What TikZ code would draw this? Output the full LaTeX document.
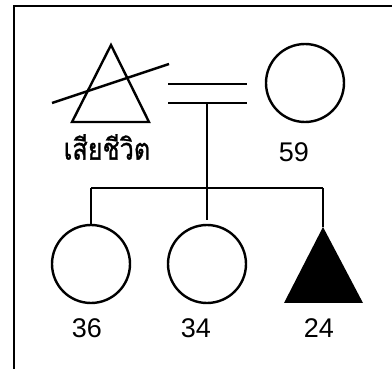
\documentclass[tikz,border=0pt]{standalone}
\usepackage{fontspec}
\usepackage{graphicx}
\setmainfont{Liberation Sans}
\newfontfamily\thaifont[Script=Thai,FakeBold=1.0]{Loma}
\begin{document}
\begin{tikzpicture}[x=1pt,y=-1pt,
  ln/.style={line width=2.4pt},
  person/.style={circle,draw,line width=2.4pt,minimum size=78pt,inner sep=0pt},
  lab/.style={font=\fontsize{27}{27}\selectfont,inner sep=0pt}]
\useasboundingbox (0,0) rectangle (392,369);
\fill[white] (0,0) rectangle (392,369);
% frame
\draw[line width=2pt] (14,369) -- (14,6) -- (392,6);
% deceased father
\coordinate (fa) at (111,45);
\coordinate (fl) at (72,122);
\coordinate (fr) at (149,122);
\draw[ln,line join=miter] (fa) -- (fl) -- (fr) -- cycle;
\coordinate (s1) at (52,103);
\coordinate (s2) at (169,64);
\draw[ln] (s1) -- (s2);
\node[lab,font=\thaifont\fontsize{30}{30}\selectfont] (dead) at (107,147) {\scalebox{0.84}[1]{เสียชีวิต}};
% mother
\node[person] (mo) at (305,83) {};
\node[lab] (l59) at (294,152) {59};
% marriage
\coordinate (m1a) at (168,84);
\coordinate (m1b) at (247,84);
\coordinate (m2a) at (168,103);
\coordinate (m2b) at (247,103);
\draw[ln] (m1a) -- (m1b);
\draw[ln] (m2a) -- (m2b);
\coordinate (mc) at (207,103);
\coordinate (mend) at (207,220);
\draw[ln] (mc) -- (mend);
% sibship
\coordinate (sl) at (91,188);
\coordinate (sr) at (323,188);
\draw[ln] (sl) -- (sr);
\node[person] (c1) at (91,264) {};
\node[person] (c2) at (207,264) {};
\coordinate (ta) at (323,227);
\coordinate (tl) at (284,303);
\coordinate (tr) at (363,303);
\fill (ta) -- (tl) -- (tr) -- cycle;
\draw[ln] (sl) -- (c1.north);
\draw[ln] (sr) -- (ta);
\node[lab] (l36) at (87,328) {36};
\node[lab] (l34) at (196,328) {34};
\node[lab] (l24) at (319,328) {24};
\end{tikzpicture}
\end{document}
